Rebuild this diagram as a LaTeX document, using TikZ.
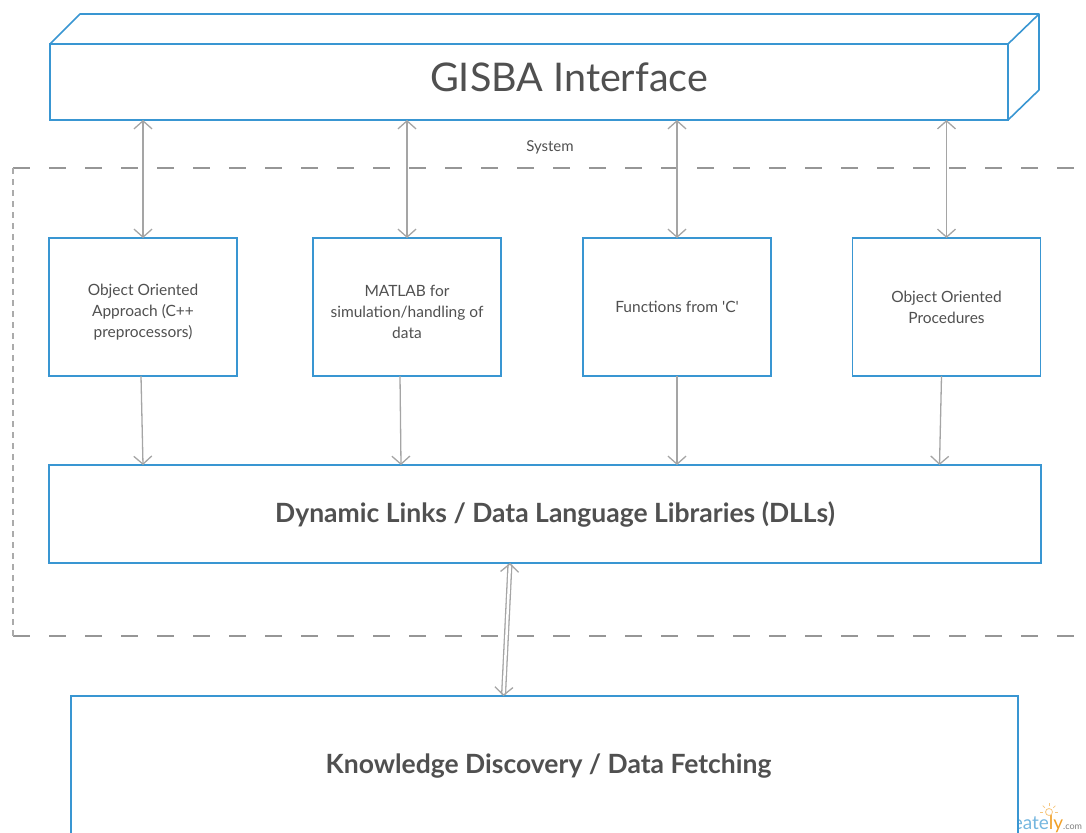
\documentclass[tikz,border=0pt]{standalone}
\usepackage{fontspec}
\setmainfont{Lato}[Ligatures=TeXOff]
\usetikzlibrary{arrows.meta,calc}
\definecolor{azul}{RGB}{57,150,210}
\definecolor{gris}{RGB}{165,165,165}
\definecolor{grisraya}{RGB}{150,150,150}
\definecolor{texto}{RGB}{80,80,80}
\definecolor{naranja}{RGB}{240,160,40}
\begin{document}
\begin{tikzpicture}[x=1pt,y=-1pt,
    caja/.style={draw=azul, line width=1.6pt, fill=white, outer sep=0pt, align=center, text=texto, inner sep=2pt},
    cajita/.style={caja, minimum width=188pt, minimum height=138pt, font=\fontsize{15.5}{21}\selectfont},
    textito/.style={text=texto, align=center, font=\fontsize{15.5}{21}\selectfont, yshift=-5pt},
    rotulo/.style={text=texto, font=\fontsize{26.5}{30}\selectfont\bfseries},
    punta/.style={-{Straight Barb[length=8pt,width=18pt,line width=1.3pt]}},
    flecha/.style={draw=gris, line width=1.3pt, punta},
    dobleflecha/.style={draw=gris, line width=1.3pt, {Straight Barb[length=8pt,width=18pt,line width=1.3pt]}-{Straight Barb[length=8pt,width=18pt,line width=1.3pt]}},
    raya/.style={draw=grisraya, line width=1.8pt, dash pattern=on 17pt off 19pt}]
            \useasboundingbox (0,0) rectangle (1086,832);
            \clip (0,0) rectangle (1086,832);

            % Marco punteado del sistema
            \draw[raya] (13,168) -- (1100,168);
            \draw[raya] (13,636) -- (1100,636);
            \draw[draw=grisraya!80, line width=1.1pt, dash pattern=on 6pt off 5pt] (13,168) -- (13,636);
            \node[text=texto, font=\fontsize{15}{17}\selectfont] (sistema) at (550,147) {System};

            % Caja 3D de la interfaz
            \node[caja, minimum width=958pt, minimum height=76pt,
                  label={[text=texto, font=\fontsize{39.5}{44}\selectfont, xshift=40pt, yshift=5pt]center:GISBA Interface}] (gisba) at (529,82) {};
            \draw[azul, line width=1.6pt, line join=round] (gisba.north west) -- ++(30,-30) -- ++(959,0) -- ++(0,76) -- (gisba.south east);
            \draw[azul, line width=1.6pt] (gisba.north east) -- ++(31,-30);

            % Las cuatro cajas del medio
            \node[cajita, label={[textito]center:Object Oriented\\Approach (C++\\preprocessors)}] (oop) at (143,307) {};
            \node[cajita, label={[textito]center:MATLAB for\\simulation/handling of\\data}] (matlab) at (407,307) {};
            \node[cajita] (cfun) at (677,307) {Functions from 'C'};
            \node[cajita] (oproc) at (946.5,307) {Object Oriented\\Procedures};

            % Caja de las DLL
            \node[caja, minimum width=992pt, minimum height=98pt,
                  label={[rotulo, xshift=10pt]center:Dynamic Links / Data Language Libraries (DLLs)}] (dll) at (545,514) {};

            % Marca de agua (queda tapada en parte)
            \node[anchor=base west, inner sep=0pt, font=\fontsize{19}{22}\selectfont] (marca) at (997,829) {\textcolor{azul!70}{create}\textcolor{naranja}{ly}\textcolor{gray}{\fontsize{9}{10}\selectfont .com}};
            \draw[naranja!60, line width=0.8pt] (1049,812) circle (3.5pt);
            \foreach \a in {0,45,90,135,180}
                \draw[naranja!60, line width=0.7pt] (1049,812) ++(\a:6pt) -- ++(\a:3pt);

            % Caja de abajo
            \node[caja, minimum width=947pt, minimum height=148pt,
                  label={[rotulo, xshift=4pt, yshift=4pt]center:Knowledge Discovery / Data Fetching}] (kd) at (544.5,770) {};

            % Flechas dobles desde la interfaz
            \foreach \c in {oop,matlab,cfun,oproc}
                \draw[dobleflecha] (gisba.south -| \c.north) -- (\c.north);

            % Flechas hacia las DLL
            \draw[flecha] ([xshift=-2pt]oop.south) -- ([xshift=0pt]oop.south |- dll.north);
            \draw[flecha] ([xshift=-7pt]matlab.south) -- ([xshift=-6pt]matlab.south |- dll.north);
            \draw[flecha] (cfun.south) -- (cfun.south |- dll.north);
            \draw[flecha] ([xshift=-5pt]oproc.south) -- ([xshift=-7pt]oproc.south |- dll.north);

            % Flecha doble entre DLL y la caja de abajo
            \draw[dobleflecha, double=white, double distance=2.5pt] ([xshift=-35pt]dll.south) -- ([xshift=-41pt]kd.north);
\end{tikzpicture}
\end{document}
